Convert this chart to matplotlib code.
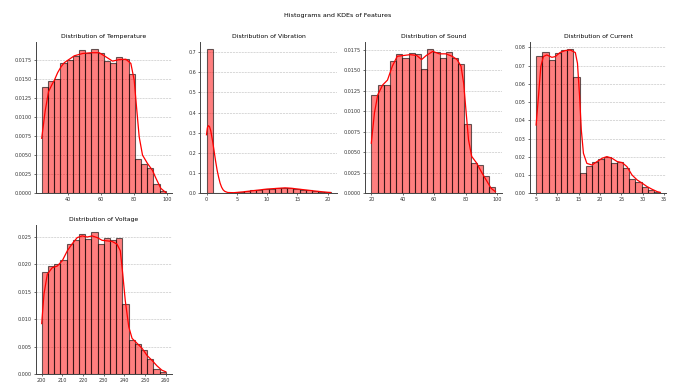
import numpy as np
import matplotlib
matplotlib.use("Agg")
import matplotlib.pyplot as plt
from matplotlib.ticker import MultipleLocator, FormatStrFormatter

# ---- Temperature ----
temp_range = (24.4, 99.0)
temp_density = [0.01385, 0.01468, 0.01498, 0.01712, 0.01746, 0.01794, 0.01882, 0.01842,
                0.01890, 0.01842, 0.01738, 0.01707, 0.01786, 0.01755, 0.01563, 0.00453,
                0.00379, 0.00335, 0.00118, 0.00035]
temp_kde_x = [24.4, 26.5, 28.5, 30.5, 32, 34, 36, 38, 40, 44, 49, 54, 59, 63, 67, 71, 75,
              78, 80, 81.4, 83, 85, 88, 91, 93, 96, 99]
temp_kde_y = [0.0072, 0.0108, 0.0133, 0.0142, 0.0148, 0.0158, 0.01655, 0.0171, 0.0174,
              0.0180, 0.0183, 0.0184, 0.0184, 0.01786, 0.0173, 0.0175, 0.01755, 0.0170,
              0.0148, 0.0113, 0.0074, 0.0050, 0.0039, 0.0030, 0.0020, 0.00065, 0.0001]

# ---- Vibration ----
vib_range = (0.0, 20.5)
vib_density = [0.715, 0.0, 0.0, 0.0, 0.003, 0.006, 0.011, 0.015, 0.018, 0.021, 0.023,
               0.024, 0.027, 0.025, 0.021, 0.017, 0.014, 0.011, 0.008, 0.005]
vib_kde_x = [0.0, 0.15, 0.3, 0.5, 0.7, 1.0, 1.25, 1.5, 1.75, 2.0, 2.25, 2.5, 2.75, 3.0, 3.5,
             4.5, 6, 8, 10, 12, 13, 14, 16, 18, 20, 20.5]
vib_kde_y = [0.29, 0.325, 0.335, 0.33, 0.31, 0.26, 0.21, 0.16, 0.115, 0.08, 0.05, 0.03,
             0.017, 0.01, 0.004, 0.003, 0.007, 0.014, 0.021, 0.025, 0.027, 0.025, 0.018,
             0.011, 0.005, 0.004]

# ---- Sound ----
sound_range = (20.0, 99.0)
sound_density = [0.01193, 0.01315, 0.01315, 0.01616, 0.01694, 0.01650, 0.01710, 0.01694,
                 0.01510, 0.01760, 0.01726, 0.01653, 0.01718, 0.01645, 0.01576, 0.00847,
                 0.00366, 0.00342, 0.00212, 0.00073]
sound_kde_x = [20, 22, 24.1, 27.2, 30.3, 33.4, 36.5, 40.6, 44.7, 48.9, 52, 55, 59.2, 63.3,
               67.4, 71.5, 74.6, 77.1, 78.8, 80.4, 81.9, 83.9, 87, 90.1, 93.2, 96.3, 99]
sound_kde_y = [0.0061, 0.0098, 0.0120, 0.0132, 0.0138, 0.0155, 0.0167, 0.0168, 0.0169,
               0.0168, 0.0163, 0.0168, 0.0173, 0.0170, 0.0170, 0.0167, 0.0163, 0.0155,
               0.0134, 0.0098, 0.0065, 0.0045, 0.0037, 0.0026, 0.0016, 0.0006, 0.0002]

# ---- Current ----
curr_range = (5.0, 34.1)
curr_density = [0.0754, 0.0773, 0.0729, 0.0767, 0.0785, 0.0791, 0.0639, 0.0113, 0.0150,
                0.0172, 0.0190, 0.0197, 0.0168, 0.0174, 0.0137, 0.0077, 0.0064, 0.0037,
                0.0018, 0.0005]
curr_kde_x = [5, 5.55, 6.1, 6.7, 7.5, 8.7, 9.5, 10.6, 11.8, 13, 14.2, 14.7, 15.2, 15.6,
              16.1, 16.9, 18.1, 19.3, 20.5, 21.6, 22.8, 24, 25.2, 26.3, 27.5, 28.7, 29.9,
              31, 32.2, 33.4, 34.1]
curr_kde_y = [0.0374, 0.053, 0.0694, 0.0749, 0.0758, 0.0745, 0.0749, 0.0771, 0.0782,
              0.0785, 0.0771, 0.0712, 0.053, 0.0347, 0.0219, 0.0164, 0.0155, 0.0174,
              0.0192, 0.0201, 0.0192, 0.0174, 0.0168, 0.0146, 0.0100, 0.0073, 0.0055,
              0.0037, 0.0022, 0.0009, 0.0005]

# ---- Voltage ----
volt_range = (200.0, 260.0)
volt_density = [0.01866, 0.01963, 0.01999, 0.02083, 0.0238, 0.0244, 0.0256, 0.0247,
                0.0259, 0.0238, 0.0249, 0.0245, 0.0249, 0.0127, 0.00616, 0.00543, 0.00435,
                0.00266, 0.00085, 0.00036]
volt_kde_x = [200, 201.1, 202.7, 205.1, 207.5, 210, 212.4, 214.8, 217.2, 219.6, 222,
              224.4, 226.8, 229.2, 231.6, 234, 236.4, 238, 239.2, 240.4, 242.1, 243.7,
              246.1, 248.5, 250.9, 253.3, 255.7, 258.1, 260]
volt_kde_y = [0.0092, 0.0146, 0.0182, 0.0194, 0.0197, 0.0207, 0.0225, 0.0238, 0.0249,
              0.0252, 0.0250, 0.0252, 0.0249, 0.0244, 0.0243, 0.0242, 0.0237, 0.0225,
              0.0182, 0.0134, 0.0086, 0.0065, 0.0056, 0.0047, 0.0034, 0.0025, 0.0015,
              0.0007, 0.0004]

features = [
    ("Temperature", temp_range, temp_density, temp_kde_x, temp_kde_y, 20, 0.0025, "%.4f"),
    ("Vibration", vib_range, vib_density, vib_kde_x, vib_kde_y, 5, 0.1, "%.1f"),
    ("Sound", sound_range, sound_density, sound_kde_x, sound_kde_y, 20, 0.0025, "%.4f"),
    ("Current", curr_range, curr_density, curr_kde_x, curr_kde_y, 5, 0.01, "%.2f"),
    ("Voltage", volt_range, volt_density, volt_kde_x, volt_kde_y, 10, 0.005, "%.3f"),
]

W, H = 675, 389
fig = plt.figure(figsize=(W / 100, H / 100), dpi=100)
fig.suptitle("Histograms and KDEs of Features", fontsize=4.6, y=0.967)

col_left = [35.5 + i * 164.8 for i in range(4)]
col_width = 136.5
rows = [(41.7, 193.3), (225.0, 374.0)]

for idx, (name, rng, dens, kx, ky, xstep, ystep, yfmt) in enumerate(features):
    r, c = divmod(idx, 4)
    top, bottom = rows[r]
    ax = fig.add_axes([col_left[c] / W, 1 - bottom / H, col_width / W, (bottom - top) / H])
    edges = np.linspace(rng[0], rng[1], len(dens) + 1)
    ax.bar(edges[:-1], dens, width=np.diff(edges), align="edge",
           facecolor=(1, 0, 0, 0.5), edgecolor=(0, 0, 0, 0.6), linewidth=0.8, zorder=2)
    ax.plot(kx, ky, color="red", linewidth=0.9, zorder=3)
    ax.set_title(f"Distribution of {name}", fontsize=4.4, pad=3)
    ax.xaxis.set_major_locator(MultipleLocator(xstep))
    ax.yaxis.set_major_locator(MultipleLocator(ystep))
    ax.yaxis.set_major_formatter(FormatStrFormatter(yfmt))
    ax.set_ylim(0, max(max(dens), max(ky)) * 1.05)
    ax.tick_params(labelsize=3.5, length=1.5, width=0.5, pad=1.5, colors="#333333")
    ax.grid(axis="y", linestyle="--", linewidth=0.4, color="#bbbbbb", zorder=0)
    ax.set_axisbelow(True)
    for s in ("top", "right"):
        ax.spines[s].set_visible(False)
    for s in ("left", "bottom"):
        ax.spines[s].set_linewidth(0.7)
        ax.spines[s].set_color("#444444")

fig.savefig("out.png", dpi=100)
